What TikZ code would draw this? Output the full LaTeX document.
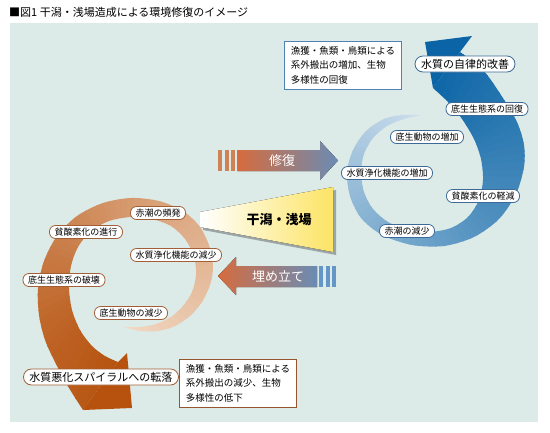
\documentclass[tikz,border=0pt]{standalone}
\usepackage{fontspec}
\setmainfont{Noto Sans CJK JP}
\usepackage{xcolor}
\usepackage{tikz}
\usetikzlibrary{positioning}

\definecolor{panelbg}{RGB}{221,235,232}
\definecolor{bluelight}{RGB}{208,224,238}
\definecolor{bluedark}{RGB}{10,100,165}
\definecolor{orangelight}{RGB}{243,220,200}
\definecolor{orangedark}{RGB}{182,82,14}
\definecolor{tagblue}{RGB}{60,105,150}
\definecolor{tagorange}{RGB}{160,95,55}
\definecolor{noteblue}{RGB}{80,130,180}
\definecolor{notebrown}{RGB}{150,85,45}
\definecolor{arroworange}{RGB}{214,108,62}
\definecolor{arrowblue}{RGB}{106,140,180}
\definecolor{stripeorange}{RGB}{208,130,85}
\definecolor{stripeblue}{RGB}{100,150,200}
\definecolor{flatyellow}{RGB}{252,228,100}
\definecolor{shadowgrey}{RGB}{155,165,165}

\begin{document}
\begin{tikzpicture}[
  x=1pt, y=-1pt,
  font=\fontsize{9}{11}\selectfont,
  bluetag/.style={
    draw=tagblue, fill=white, line width=0.8pt, rounded corners=6pt,
    inner xsep=5pt, inner ysep=1pt, minimum height=13pt
  },
  orangetag/.style={bluetag, draw=tagorange},
  bigtag/.style={font=\fontsize{11}{13}\selectfont, minimum height=16pt, rounded corners=8pt, inner xsep=6pt},
  notebox/.style={
    draw, fill=white, line width=0.8pt, align=left,
    inner xsep=6pt, inner ysep=5pt, font=\fontsize{9.5}{14.5}\selectfont
  },
  arrowtext/.style={text=white, font=\fontsize{13}{15}\selectfont}
]

% Canvas, panel and title
\fill[white] (0,0) rectangle (550,432);
\fill[panelbg] (10,23) rectangle (538,422);
\node[anchor=west, inner sep=0pt, font=\fontsize{11}{13}\selectfont] (title) at (9,12)
  {■図1 干潟・浅場造成による環境修復のイメージ};

% Blue spiral: clip the band, then colour it wedge by wedge
\begin{scope}
  \clip plot[smooth] coordinates {(421,115) (402,115) (384,119) (366,131) (353,150)
    (347,172) (350,196) (361,218) (382,235) (412,245) (444,246) (474,237) (499,219)
    (516,194) (524,167) (524,145) (517,122) (501,95) (483,70) (460,52)}
    -- plot[smooth] coordinates {(433,88) (448,102) (462,119) (474,139) (481,159)
    (483,180) (479,200) (468,217) (451,228) (429,232) (407,230) (388,222) (373,209)
    (364,192) (361,172) (364,154) (373,138) (387,126) (404,119) (421,115)} -- cycle;
  \foreach \a in {0,5,...,355}{
    \pgfmathsetmacro\mix{(\a+2.5)/3.6}
    \fill[bluedark!\mix!bluelight] (422,170) -- ({422-300*sin(\a)},{170-300*cos(\a)})
      -- ({422-300*sin(\a+5.5)},{170-300*cos(\a+5.5)}) -- cycle;
  }
\end{scope}
\fill[bluedark] (433,88) -- (425,42) -- (472,36) -- (460,52) -- cycle;

% Orange spiral, same way
\begin{scope}
  \clip plot[smooth] coordinates {(124,327) (140,331) (158,331) (175,326) (190,316)
    (202,302) (210,285) (213,268) (210,248) (200,227) (183,211) (159,201) (131,198)
    (103,203) (77,216) (57,236) (44,261) (38,288) (39,315) (45,340) (56,364) (69,388)
    (83,410)}
    -- plot[smooth] coordinates {(118,362) (105,356) (92,346) (80,330) (72,310) (69,288)
    (71,266) (78,247) (91,231) (109,221) (131,217) (152,219) (171,226) (185,239)
    (194,256) (196,275) (192,292) (183,306) (171,317) (156,324) (140,327) (124,327)} -- cycle;
  \foreach \a in {180,185,...,535}{
    \pgfmathsetmacro\mix{(\a-177.5)/3.6}
    \fill[orangedark!\mix!orangelight] (121,272) -- ({121-300*sin(\a)},{272-300*cos(\a)})
      -- ({121-300*sin(\a+5.5)},{272-300*cos(\a+5.5)}) -- cycle;
  }
\end{scope}
\fill[orangedark] (118,362) -- (127,353) -- (132,408) -- (83,410) -- cycle;

% Restoration arrow
\foreach \x in {218,224.5,231}
  \fill[stripeorange] (\x,150) rectangle ++(4,21);
\fill[left color=arroworange, right color=arrowblue]
  (237.5,150) -- (320,150) -- (320,141) -- (338,160.5) -- (320,180) -- (320,171) -- (237.5,171) -- cycle;
\node[arrowtext] (restore) at (282,160.5) {修復};

% Tidal flat wedge
\fill[shadowgrey] (203,215) -- (336,190) -- (336,255) -- (203,230) -- cycle;
\fill[left color=white, right color=flatyellow] (200,212) -- (333,187) -- (333,252) -- (200,227) -- cycle;
\node[font=\fontsize{13}{15}\selectfont\bfseries] (flat) at (279,220) {干潟・浅場};

% Reclamation arrow
\fill[left color=arroworange, right color=arrowblue]
  (218,276) -- (236,257) -- (236,266) -- (317,266) -- (317,287) -- (236,287) -- (236,295) -- cycle;
\foreach \x in {319,325.5,332}
  \fill[stripeblue] (\x,266) rectangle ++(4,21);
\node[arrowtext] (reclaim) at (278,276.5) {埋め立て};

% Blue spiral labels
\node[bluetag, bigtag] (selfclean) at (465,64) {水質の自律的改善};
\node[bluetag] (bedrecover) at (487,109) {底生生態系の回復};
\node[bluetag] (fauna) at (427,137) {底生動物の増加};
\node[bluetag] (purifyup) at (387,173) {水質浄化機能の増加};
\node[bluetag] (oxygen) at (483,196) {貧酸素化の軽減};
\node[bluetag] (tideless) at (407,231) {赤潮の減少};

% Orange spiral labels
\node[orangetag] (tidemore) at (158,213) {赤潮の頻発};
\node[orangetag] (anoxia) at (86,232) {貧酸素化の進行};
\node[orangetag] (purifydown) at (176,255) {水質浄化機能の減少};
\node[orangetag] (bedruin) at (64,280) {底生生態系の破壊};
\node[orangetag] (faunaloss) at (131,313) {底生動物の減少};
\node[orangetag, bigtag] (decline) at (101,377) {水質悪化スパイラルへの転落};

% Note boxes
\node[notebox, draw=noteblue] (goodnote) at (343,65)
  {漁獲・魚類・鳥類による\\系外搬出の増加、生物\\多様性の回復};
\node[notebox, draw=notebrown] (badnote) at (238,383)
  {漁獲・魚類・鳥類による\\系外搬出の減少、生物\\多様性の低下};

\end{tikzpicture}
\end{document}
